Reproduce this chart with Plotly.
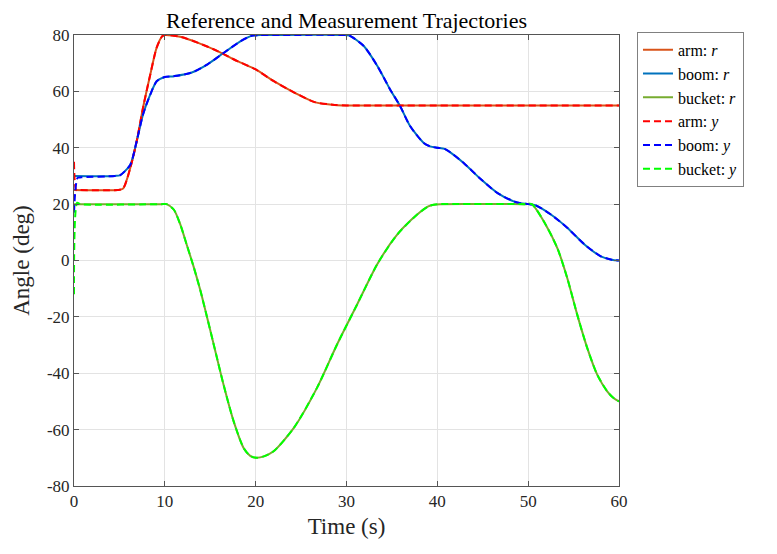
import plotly.graph_objects as go

# reference trajectories (time in s, angle in deg)
arm_r_t = [0, 4.8, 5.4, 6.2, 6.9, 7.6, 8.4, 9.1, 9.7, 10, 11.8, 13.6, 15.8, 18, 20, 22, 24.3, 26.5, 28.7, 30, 31, 60]
arm_r = [25, 25, 25.5, 32.9, 42.3, 54.2, 66, 75.5, 79.5, 80, 79.3, 77.3, 74.3, 70.7, 67.8, 63.6, 59.5, 56.2, 55.2, 55, 55, 55]

boom_r_t = [0, 4.5, 5.1, 6.2, 6.9, 7.6, 8.4, 9.1, 9.9, 11, 12.9, 14.7, 16.5, 18.35, 19.45, 20.5, 21.2,
            29.5, 30.3, 31.9, 33.4, 34.8, 35.9, 37.0, 38.5, 39.2, 40, 40.8, 41.5, 42.9, 44.8, 46.6, 48.4,
            49.2, 50, 50.8, 52.5, 54.3, 56.2, 58, 59.2, 60]
boom_r = [30, 30, 30.3, 34, 42.3, 51.8, 58.9, 63.6, 65, 65.4, 66.6, 69.6, 73.7, 77.8, 79.6, 80, 80,
          80, 79.8, 76.1, 69, 60.7, 54.8, 47.7, 41.7, 40.5, 40, 39.6, 38.2, 34.6, 28.8, 24, 21,
          20.3, 20, 19.6, 16.3, 11.6, 5.7, 1.5, 0.3, 0]

bucket_r_t = [0, 9.6, 10.2, 11, 11.7, 12.4, 13.15, 13.9, 14.6, 15.36, 16.46, 17.57, 18.67, 19.4, 20.1, 20.9,
              21.97, 24.2, 26.75, 28.96, 31.17, 33.37, 35.58, 37.78, 39.0, 39.6, 40.3, 49.6, 50.4, 51.7,
              53.2, 54.3, 55.4, 56.5, 57.6, 58.7, 59.4, 60]
bucket_r = [20, 20, 20, 18, 12.8, 5.7, -2, -10.5, -19.5, -29.5, -44, -57, -66.5, -69.3, -70, -69.5,
            -67.7, -59.4, -45.2, -29.8, -15.6, -1.4, 9.2, 16.3, 19.2, 19.8, 20, 20, 20, 14,
            4.5, -6.2, -19.2, -31, -40.5, -46.4, -48.8, -50]

# measured outputs: initial transient, then they track the references
arm_y_start_t, arm_y_start = [0, 0.25, 0.6], [35, 25, 25]
boom_y_start_t, boom_y_start = [0, 0.4, 0.8], [17, 29.3, 29.5]
bucket_y_start_t, bucket_y_start = [0, 0.35, 0.7], [-12, 20.5, 20]

arm_y_t = arm_y_start_t + arm_r_t[1:]
arm_y = arm_y_start + arm_r[1:]
boom_y_t = boom_y_start_t + boom_r_t[1:]
boom_y = boom_y_start + boom_r[1:]
bucket_y_t = bucket_y_start_t + bucket_r_t[1:]
bucket_y = bucket_y_start + bucket_r[1:]

x_ticks = [0, 10, 20, 30, 40, 50, 60]
y_ticks = [-80, -60, -40, -20, 0, 20, 40, 60, 80]
y_tick_labels = [str(v) for v in y_ticks]

FONT = "Liberation Serif"
INK = "#262626"

series = [
    (arm_r_t, arm_r, "arm: <i>r</i>", "#D95319", "solid"),
    (boom_r_t, boom_r, "boom: <i>r</i>", "#0072BD", "solid"),
    (bucket_r_t, bucket_r, "bucket: <i>r</i>", "#77AC30", "solid"),
    (arm_y_t, arm_y, "arm: <i>y</i>", "#FF0000", "7px,4px"),
    (boom_y_t, boom_y, "boom: <i>y</i>", "#0000FF", "7px,4px"),
    (bucket_y_t, bucket_y, "bucket: <i>y</i>", "#00FF00", "7px,4px"),
]

fig = go.Figure()
for t, v, name, color, dash in series:
    fig.add_trace(go.Scatter(
        x=t, y=v, mode="lines", name=name,
        line=dict(color=color, width=2, dash=dash, shape="spline", smoothing=0.7),
    ))

axis_common = dict(
    showline=True, linecolor="#555555", linewidth=1, mirror="allticks",
    ticks="inside", ticklen=5, tickcolor="#555555",
    showgrid=True, gridcolor="#e3e3e3", gridwidth=1, zeroline=False,
    tickfont=dict(family=FONT, size=17, color=INK),
)

fig.update_xaxes(range=[0, 60], tickvals=x_ticks,
                 title=dict(text="Time (s)", font=dict(family=FONT, size=23, color=INK), standoff=7),
                 **axis_common)
fig.update_yaxes(range=[-80, 80], tickvals=y_ticks, ticktext=y_tick_labels,
                 title=dict(text="Angle (deg)", font=dict(family=FONT, size=23, color=INK), standoff=10),
                 **axis_common)

fig.update_layout(
    width=777, height=554,
    margin=dict(l=66, r=166, t=27, b=76),
    paper_bgcolor="white", plot_bgcolor="white",
    title=dict(text="Reference and Measurement Trajectories", xref="paper", x=0.5, xanchor="center",
               y=0.978, yanchor="middle", font=dict(family=FONT, size=22, color="black")),
    legend=dict(x=1.033, y=1.007, xanchor="left", yanchor="top",
                bgcolor="white", bordercolor="#808080", borderwidth=1,
                font=dict(family=FONT, size=16, color="black")),
    showlegend=True,
)

fig.write_html("out.html")
